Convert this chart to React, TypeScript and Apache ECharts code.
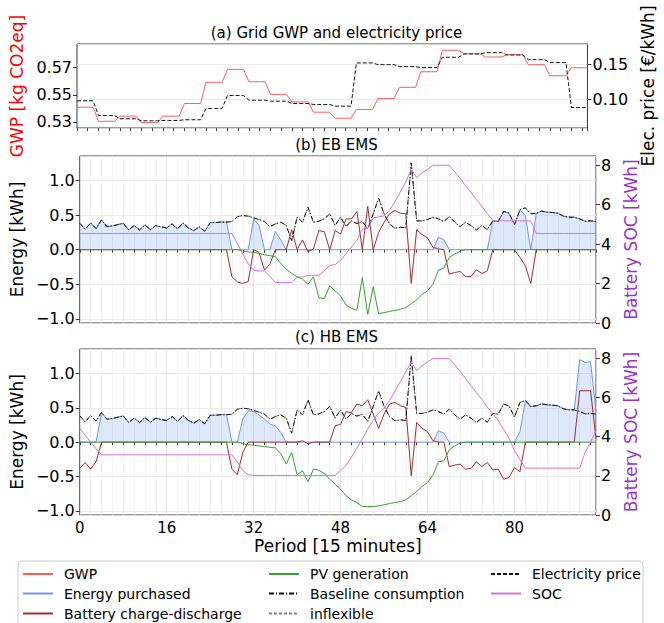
import { useEffect, useRef } from "react";
import * as echarts from "echarts";

const FONT = "DejaVu Sans";

// ---- Panel (a): hourly grid values (each hour = 4 periods of 15 minutes)
const gwpHourly = [0.5386, 0.5256, 0.5303, 0.5244, 0.5303, 0.542, 0.5615, 0.5735, 0.5621, 0.5504, 0.5435, 0.534,
  0.5284, 0.5365, 0.5466, 0.5569, 0.5713, 0.5911, 0.588, 0.5849, 0.587, 0.5778, 0.5676, 0.575];
const priceHourly = [0.0981, 0.0771, 0.0724, 0.0695, 0.07, 0.071, 0.0871, 0.1057, 0.099, 0.0976, 0.0943, 0.0929,
  0.0905, 0.1524, 0.15, 0.1471, 0.1457, 0.1605, 0.1652, 0.1671, 0.1638, 0.1571, 0.1529, 0.0886];
const gwpTickValues = [0.525, 0.55, 0.575];
const gwpTickLabels = ["0.53", "0.55", "0.57"];

// ---- Baseline consumption (shared by panels b and c)
const baseline = [0.382, 0.295, 0.387, 0.305, 0.43, 0.334, 0.344, 0.363, 0.382, 0.286, 0.349, 0.286, 0.358, 0.29, 0.349, 0.329,
  0.315, 0.373, 0.3, 0.387, 0.315, 0.276, 0.329, 0.267, 0.392, 0.392, 0.4, 0.4, 0.405, 0.478, 0.494, 0.485,
  0.46, 0.436, 0.407, 0.334, 0.373, 0.397, 0.349, 0.131, 0.47, 0.397, 0.615, 0.397, 0.412, 0.446, 0.518, 0.349,
  0.47, 0.334, 0.417, 0.378, 0.407, 0.3, 0.518, 0.745, 0.518, 0.373, 0.31, 0.324, 0.315, 1.255, 0.417, 0.417,
  0.436, 0.47, 0.446, 0.407, 0.48, 0.397, 0.334, 0.397, 0.349, 0.286, 0.349, 0.29, 0.417, 0.407, 0.553, 0.528,
  0.363, 0.577, 0.606, 0.518, 0.528, 0.557, 0.543, 0.538, 0.528, 0.485, 0.47, 0.47, 0.446, 0.412, 0.417, 0.407];
const inflexible = baseline;

// ---- Panel (b): EB EMS
const purchasedEB = [0.382, 0.295, 0.387, 0.305, 0.43, 0.334, 0.344, 0.363, 0.382, 0.286, 0.349, 0.286, 0.358, 0.29, 0.349, 0.329,
  0.315, 0.373, 0.3, 0.387, 0.315, 0.276, 0.329, 0.267, 0.392, 0.392, 0.4, 0.4, 0, 0, 0, 0,
  0.446, 0.349, 0, 0, 0.262, 0.141, 0, 0, 0, 0, 0, 0, 0, 0, 0, 0,
  0, 0, 0, 0, 0, 0, 0, 0, 0, 0, 0, 0, 0, 0, 0, 0,
  0, 0, 0.179, 0.145, 0, 0, 0, 0, 0, 0, 0, 0, 0.417, 0.407, 0.553, 0.528,
  0.363, 0.577, 0.494, 0, 0.528, 0.557, 0.543, 0.538, 0.528, 0.485, 0.47, 0.47, 0.446, 0.412, 0.417, 0.407];
const batteryEB = [0, 0, 0, 0, 0, 0, 0, 0, 0, 0, 0, 0, 0, 0, 0, 0,
  0, 0, 0, 0, 0, 0, 0, 0, 0, 0, 0, 0, -0.392, -0.465, -0.489, -0.46,
  0, -0.04, -0.295, -0.208, 0, 0, 0, 0.29, 0, 0.141, -0.03, 0.01, 0.276, 0.262, 0, 0.276,
  0.228, 0.446, 0.446, 0.553, 0, 0.625, 0, 0.25, 0.397, 0.518, 0.567, 0.528, 0.518, -0.489, 0.29, 0.218,
  0.17, 0.034, 0.01, 0, -0.354, -0.33, -0.315, -0.392, -0.387, -0.29, -0.344, -0.305, 0, 0, 0, 0,
  0, -0.111, -0.233, -0.489, 0, 0, 0, 0, 0, 0, 0, 0, 0, 0, 0, 0];
const pvEB = [0, 0, 0, 0, 0, 0, 0, 0, 0, 0, 0, 0, 0, 0, 0, 0,
  0, 0, 0, 0, 0, 0, 0, 0, 0, 0, 0, 0, 0, 0, -0.02, -0.03,
  -0.039, -0.053, -0.073, -0.087, -0.1, -0.199, -0.281, -0.344, -0.392, -0.426, -0.5, -0.392, -0.693, -0.708, -0.523, -0.596,
  -0.669, -0.8, -0.848, -0.877, -0.402, -0.935, -0.538, -0.925, -0.91, -0.892, -0.877, -0.862, -0.838, -0.78, -0.727, -0.644,
  -0.596, -0.499, -0.295, -0.266, -0.111, -0.063, -0.024, 0, 0, 0, 0, 0, 0, 0, 0, 0,
  0, 0, 0, 0, 0, 0, 0, 0, 0, 0, 0, 0, 0, 0, 0, 0];
const socEB = [4.54, 4.54, 4.54, 4.54, 4.54, 4.54, 4.54, 4.54, 4.54, 4.54, 4.54, 4.54, 4.54, 4.54, 4.54, 4.54,
  4.54, 4.54, 4.54, 4.54, 4.54, 4.54, 4.54, 4.54, 4.54, 4.54, 4.54, 4.54, 4.54, 4.03, 3.5, 3.0,
  2.67, 2.64, 2.64, 2.37, 2.05, 2.05, 2.05, 2.05, 2.33, 2.33, 2.42, 2.42, 2.42, 2.64, 2.93, 2.96,
  3.18, 3.52, 3.86, 4.2, 4.76, 4.79, 5.33, 5.38, 5.43, 5.72, 6.14, 6.65, 7.16, 7.79, 7.38, 7.62,
  7.79, 8.0, 8.0, 8.0, 8.0, 7.67, 7.33, 6.96, 6.62, 6.26, 5.92, 5.55, 5.21, 5.18, 5.18, 5.18,
  5.18, 5.18, 5.18, 5.18, 4.54, 4.54, 4.54, 4.54, 4.54, 4.54, 4.54, 4.54, 4.54, 4.54, 4.54, 4.54];

// ---- Panel (c): HB EMS
const purchasedHB = [0, 0, 0, 0, 0.43, 0.334, 0.344, 0.363, 0.382, 0.286, 0.349, 0.286, 0.358, 0.29, 0.349, 0.329,
  0.315, 0.373, 0.3, 0.387, 0.315, 0.276, 0.329, 0.267, 0.392, 0.392, 0.4, 0.4, 0, 0, 0.335, 0.457,
  0.445, 0.393, 0.335, 0.262, 0.238, 0.14, 0, 0, 0, 0, 0, 0, 0, 0, 0, 0,
  0, 0, 0, 0, 0, 0, 0, 0, 0, 0, 0, 0, 0, 0, 0, 0,
  0, 0, 0.166, 0.131, 0, 0, 0, 0, 0, 0, 0, 0, 0, 0, 0, 0,
  0, 0.151, 0.6, 0.518, 0.528, 0.557, 0.543, 0.538, 0.528, 0.485, 0.47, 0.47, 1.2, 1.16, 1.17, 0.45];
const batteryHB = [-0.383, -0.296, -0.393, -0.286, 0, 0, 0, 0, 0, 0, 0, 0, 0, 0, 0, 0,
  0, 0, 0, 0, 0, 0, 0, 0, 0, 0, 0, 0, -0.393, -0.476, -0.15, 0,
  0, 0, 0, 0, 0, 0, 0, 0, 0, 0.02, -0.024, 0, 0, 0, 0, 0.24,
  0.257, 0.442, 0.432, 0.554, 0.53, 0.617, 0.409, 0.199, 0.409, 0.554, 0.578, 0.53, 0.505, -0.49, 0.287, 0.199,
  0.15, 0.02, 0, 0, -0.355, -0.335, -0.32, -0.393, -0.383, -0.286, -0.355, -0.296, -0.403, -0.393, -0.539, -0.515,
  -0.369, -0.432, 0, 0, 0, 0, 0, 0, 0, 0, 0, 0, 0.748, 0.748, 0.748, 0.05];
const pvHB = [0, 0, 0, 0, 0, 0, 0, 0, 0, 0, 0, 0, 0, 0, 0, 0,
  0, 0, 0, 0, 0, 0, 0, 0, 0, 0, 0, 0, 0, 0, -0.02, -0.04,
  -0.045, -0.055, -0.065, -0.075, -0.083, -0.17, -0.32, -0.15, -0.475, -0.417, -0.577, -0.393, -0.408, -0.456, -0.539, -0.612,
  -0.684, -0.781, -0.84, -0.879, -0.937, -0.937, -0.937, -0.927, -0.912, -0.893, -0.879, -0.864, -0.84, -0.781, -0.718, -0.645,
  -0.587, -0.48, -0.286, -0.272, -0.112, -0.053, -0.015, 0, 0, 0, 0, 0, 0, 0, 0, 0,
  0, 0, 0, 0, 0, 0, 0, 0, 0, 0, 0, 0, 0, 0, 0, 0];
const socHB = [4.43, 4.06, 3.72, 3.38, 3.07, 3.07, 3.07, 3.07, 3.07, 3.07, 3.07, 3.07, 3.07, 3.07, 3.07, 3.07,
  3.07, 3.07, 3.07, 3.07, 3.07, 3.07, 3.07, 3.07, 3.07, 3.07, 3.07, 3.07, 3.07, 2.7, 2.27, 2.05,
  2.02, 2.02, 2.02, 2.02, 2.02, 2.02, 2.02, 2.02, 2.02, 2.02, 2.02, 2.02, 2.02, 2.02, 2.02, 2.02,
  2.27, 2.52, 2.95, 3.41, 3.89, 4.37, 4.83, 5.22, 5.42, 5.85, 6.31, 6.82, 7.3, 7.81, 7.38, 7.61,
  7.81, 7.98, 7.98, 7.98, 7.98, 7.67, 7.33, 6.96, 6.61, 6.24, 5.9, 5.5, 5.17, 4.83, 4.37, 3.92,
  3.29, 2.83, 2.39, 2.39, 2.39, 2.39, 2.39, 2.39, 2.39, 2.39, 2.39, 2.39, 2.39, 3.2, 3.72, 4.3];

// legend entries, column by column
const legendColumns = [
  ["GWP", "Energy purchased", "Battery charge-discharge"],
  ["PV generation", "Baseline consumption", "inflexible"],
  ["Electricity price", "SOC"],
];

const C = {
  gwp: "#ff5c5c",
  purchased: "#6f98ea",
  purchasedFill: "rgba(100,149,237,0.3)",
  battery: "#a52a2a",
  pv: "#33a033",
  base: "#111111",
  infl: "#808080",
  price: "#111111",
  soc: "#da70d6",
  socLabel: "#9932cc",
  frame: "#3a3a3a",
};

const hourlyToPeriods = (h: number[]) => h.flatMap((v) => [v, v, v, v]);
const toPairs = (vals: number[]) => vals.map((v, i) => [i, v]);

const L = 77;
const W = 519;
const gridBoxes = [
  { top: 44, height: 84 },
  { top: 156, height: 167 },
  { top: 349, height: 166 },
];
const legendColLeft = [22, 268, 490];
const legendRowCenter = [574, 593.5, 613.5];

function buildOption() {
  const tickFont = { fontFamily: FONT, fontSize: 16, color: "#000" };
  const nameFont = { fontFamily: FONT, fontSize: 17 };

  const grid = gridBoxes.map((g) => ({
    left: L, width: W, top: g.top, height: g.height,
    show: true, borderColor: C.frame, borderWidth: 1, backgroundColor: "transparent",
  }));

  const vGrid = ["#dedede", "#efefef", "#efefef", "#efefef", "#efefef", "#efefef", "#efefef", "#efefef"];
  const xAxis = [0, 1, 2].map((gi) => ({
    type: "value", gridIndex: gi, min: 0, max: 95, interval: 2,
    axisLine: { show: false },
    axisTick: { show: true, length: 3, lineStyle: { color: C.frame } },
    axisLabel: {
      show: gi === 2, ...tickFont, fontSize: 15, margin: 5, showMaxLabel: false,
      formatter: (v: number) => (v % 16 === 0 ? String(v) : ""),
    },
    splitLine: { show: gi > 0, lineStyle: { color: vGrid, width: 0.8 } },
    name: gi === 2 ? "Period [15 minutes]" : "",
    nameLocation: "middle", nameGap: 22,
    nameTextStyle: { ...nameFont, color: "#000" },
  }));

  const energyAxis = (gi: number) => ({
    type: "value", gridIndex: gi, position: "left", min: -1.06, max: 1.355, splitNumber: 5,
    axisLine: { show: false },
    axisTick: { show: true, length: 4, lineStyle: { color: C.frame } },
    axisLabel: {
      ...tickFont, margin: 5, showMinLabel: false, showMaxLabel: false,
      formatter: (v: number) => v.toFixed(1).replace("-", "\u2212"),
    },
    splitLine: { show: true, lineStyle: { color: "#e6e6e6", width: 0.8 } },
    name: "Energy [kWh]", nameLocation: "middle", nameGap: 47, nameRotate: 90,
    nameTextStyle: { ...nameFont, color: "#000" },
  });
  const socAxis = (gi: number) => ({
    type: "value", gridIndex: gi, position: "right", min: 0, max: 8.47, interval: 2,
    axisLine: { show: false },
    axisTick: { show: true, length: 4, lineStyle: { color: C.frame } },
    axisLabel: { ...tickFont, margin: 5, showMaxLabel: false },
    splitLine: { show: false },
    name: "Battery SOC [kWh]", nameLocation: "middle", nameGap: 21, nameRotate: 90,
    nameTextStyle: { ...nameFont, color: C.socLabel },
  });

  const yAxis = [
    {
      type: "value", gridIndex: 0, position: "left", min: 0.5194, max: 0.5969,
      axisLine: { show: false },
      axisTick: { show: true, length: 4, customValues: gwpTickValues, lineStyle: { color: C.frame } },
      axisLabel: {
        ...tickFont, margin: 5, customValues: gwpTickValues,
        formatter: (v: number) => {
          const k = gwpTickValues.findIndex((t) => Math.abs(t - v) < 1e-6);
          return k >= 0 ? gwpTickLabels[k] : "";
        },
      },
      splitLine: { show: false },
      name: "GWP [kg CO2eq]", nameLocation: "middle", nameGap: 48, nameRotate: 90,
      nameTextStyle: { ...nameFont, color: "#ff0000" },
    },
    {
      type: "value", gridIndex: 0, position: "right", min: 0.0592, max: 0.1795, splitNumber: 2,
      axisLine: { show: false },
      axisTick: { show: true, length: 4, lineStyle: { color: C.frame } },
      axisLabel: {
        ...tickFont, margin: 5, showMinLabel: false, showMaxLabel: false,
        formatter: (v: number) => v.toFixed(2),
      },
      splitLine: { show: true, lineStyle: { color: "#e6e6e6", width: 0.8 } },
      name: "Elec. price [\u20ac/kWh]", nameLocation: "middle", nameGap: 42, nameRotate: 90,
      nameTextStyle: { ...nameFont, color: "#000" },
    },
    energyAxis(1), socAxis(1), energyAxis(2), socAxis(2),
  ];

  const line = (name: string, xi: number, yi: number, data: number[], color: string, extra: any = {}) => ({
    type: "line", name, xAxisIndex: xi, yAxisIndex: yi, data: toPairs(data),
    symbol: "none", color, lineStyle: { color, width: 1, ...(extra.lineStyle || {}) },
    z: extra.z ?? 2, areaStyle: extra.areaStyle, silent: true,
  });

  const panelSeries = (xi: number, yl: number, yr: number, purchased: number[], battery: number[], pv: number[], soc: number[]) => [
    line("Energy purchased", xi, yl, purchased, C.purchased, { areaStyle: { color: C.purchasedFill }, z: 2 }),
    line("Battery charge-discharge", xi, yl, battery, C.battery, { z: 3 }),
    line("PV generation", xi, yl, pv, C.pv, { z: 4 }),
    line("inflexible", xi, yl, inflexible, C.infl, { lineStyle: { type: [3, 2] }, z: 5 }),
    line("Baseline consumption", xi, yl, baseline, C.base, { lineStyle: { type: [5, 2, 1, 2] }, z: 6 }),
    line("SOC", xi, yr, soc, C.soc, { z: 7 }),
  ];

  const series = [
    line("GWP", 0, 0, hourlyToPeriods(gwpHourly), C.gwp, { z: 3 }),
    line("Electricity price", 0, 1, hourlyToPeriods(priceHourly), C.price, { lineStyle: { type: [4, 2] }, z: 4 }),
    ...panelSeries(1, 2, 3, purchasedEB, batteryEB, pvEB, socEB),
    ...panelSeries(2, 4, 5, purchasedHB, batteryHB, pvHB, socHB),
  ];

  const legend: any[] = [];
  legendColumns.forEach((col, ci) => {
    col.forEach((name, ri) => {
      legend.push({
        orient: "horizontal", left: legendColLeft[ci], top: legendRowCenter[ri] - 7, padding: 0,
        itemWidth: 30, itemHeight: 14, selectedMode: false, data: [name],
        itemStyle: { opacity: 0 },
        textStyle: { fontFamily: FONT, fontSize: 14, color: "#000", lineHeight: 14, padding: [0, 0, 0, 6] },
      });
    });
  });

  const titleText = (text: string, y: number) => ({
    type: "text", x: L + W / 2, y,
    style: { text, fill: "#000", font: `15px '${FONT}'`, textAlign: "center", textVerticalAlign: "middle" },
  });

  return {
    animation: false,
    backgroundColor: "#ffffff",
    grid, xAxis, yAxis, series, legend,
    graphic: [
      titleText("(a) Grid GWP and electricity price", 33),
      titleText("(b) EB EMS", 145),
      titleText("(c) HB EMS", 337),
      {
        type: "rect", z: -1, shape: { x: 18, y: 561, width: 625, height: 80, r: 4 },
        style: { fill: "#ffffff", stroke: "#cccccc", lineWidth: 1 },
      },
    ],
  };
}

export default function App() {
  const ref = useRef<HTMLDivElement>(null);
  useEffect(() => {
    if (!ref.current) return;
    const chart = echarts.init(ref.current, undefined, { renderer: "svg" });
    chart.setOption(buildOption() as any);
    return () => chart.dispose();
  }, []);
  return <div ref={ref} style={{ position: "absolute", left: 0, top: 0, width: 664, height: 623 }} />;
}
